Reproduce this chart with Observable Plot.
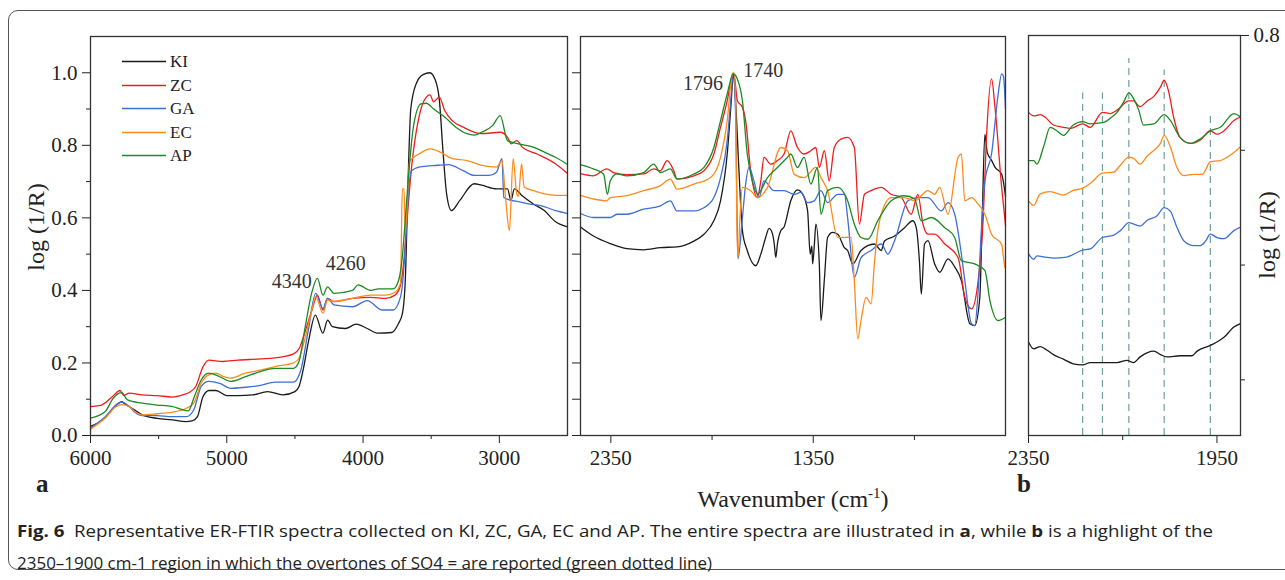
<!DOCTYPE html>
<html><head><meta charset="utf-8">
<script src="https://cdn.jsdelivr.net/npm/d3@7"></script>
<script src="https://cdn.jsdelivr.net/npm/@observablehq/plot@0.6"></script>
<style>
body{margin:0;background:#fff;}
#wrap{position:relative;width:1285px;height:580px;overflow:hidden;font-family:"Liberation Serif",serif;color:#222;}
.abs{position:absolute;}
.border{position:absolute;left:8px;top:10px;width:1300px;height:560px;border:1.3px solid #555;border-radius:10px;box-sizing:border-box;}
.ylab{position:absolute;font-size:24px;white-space:nowrap;transform:translate(-50%,-50%) rotate(-90deg);}
.cap{position:absolute;left:17px;font-family:"Open Sans",sans-serif;font-size:16.5px;white-space:nowrap;transform-origin:0 50%;color:#222;}
.leg{position:absolute;font-size:17px;line-height:17px;}
</style></head><body><div id="wrap"><div class="border"></div></div>
<script>
// ---------- data ----------
const names = ["KI","ZC","GA","EC","AP"];
const colors = ["#1a1a1a","#ee1d1d","#3d6fd6","#ff8a1c","#1c8a22"];

// full spectra (wavenumber cm-1, log(1/R)) 6000 -> 400
const KI = [[6000,0.025],[5890,0.05],[5810,0.085],[5770,0.093],[5745,0.086],[5716,0.08],[5675,0.07],[5620,0.057],[5510,0.047],[5400,0.043],[5300,0.038],[5255,0.04],[5215,0.052],[5175,0.107],[5130,0.124],[5080,0.124],[5000,0.11],[4920,0.11],[4810,0.112],[4700,0.121],[4590,0.112],[4500,0.121],[4470,0.135],[4440,0.18],[4400,0.26],[4350,0.332],[4295,0.282],[4260,0.318],[4225,0.3],[4130,0.295],[4050,0.307],[3970,0.295],[3890,0.282],[3790,0.284],[3740,0.309],[3712,0.335],[3690,0.43],[3670,0.7],[3650,0.9],[3610,0.97],[3560,0.995],[3510,1.0],[3470,0.98],[3440,0.924],[3414,0.786],[3387,0.666],[3352,0.62],[3290,0.648],[3185,0.694],[3130,0.69],[3020,0.68],[2940,0.68],[2915,0.648],[2890,0.68],[2830,0.66],[2750,0.638],[2670,0.62],[2590,0.59],[2500,0.575],
[2436,0.55],[2353,0.529],[2271,0.515],[2188,0.512],[2105,0.518],[2023,0.52],[1940,0.536],[1890,0.555],[1841,0.592],[1808,0.647],[1775,0.776],[1755,0.923],[1745,0.997],[1733,0.914],[1717,0.73],[1700,0.565],[1676,0.51],[1634,0.468],[1609,0.5],[1585,0.546],[1568,0.571],[1551,0.555],[1543,0.53],[1535,0.491],[1527,0.528],[1510,0.565],[1494,0.575],[1461,0.647],[1428,0.677],[1403,0.666],[1378,0.62],[1365,0.5],[1357,0.522],[1353,0.473],[1344,0.53],[1337,0.583],[1320,0.473],[1312,0.317],[1295,0.43],[1279,0.546],[1254,0.56],[1229,0.555],[1196,0.518],[1180,0.51],[1155,0.473],[1114,0.51],[1048,0.528],[1014,0.51],[998,0.536],[948,0.55],[899,0.573],[858,0.592],[841,0.573],[825,0.478],[816,0.39],[800,0.528],[783,0.537],[750,0.473],[725,0.45],[684,0.487],[651,0.465],[618,0.427],[576,0.308],[552,0.303],[527,0.38],[515,0.6],[502,0.83],[490,0.78],[470,0.76],[452,0.74],[419,0.72],[400,0.66]];
const ZC = [[6000,0.08],[5920,0.084],[5840,0.107],[5783,0.124],[5756,0.11],[5716,0.117],[5620,0.112],[5510,0.11],[5400,0.106],[5323,0.112],[5269,0.12],[5228,0.135],[5174,0.19],[5133,0.208],[5030,0.204],[4917,0.208],[4754,0.211],[4592,0.217],[4511,0.225],[4470,0.239],[4429,0.282],[4375,0.346],[4335,0.387],[4294,0.346],[4261,0.378],[4213,0.369],[4077,0.378],[3942,0.381],[3834,0.378],[3766,0.387],[3725,0.415],[3698,0.493],[3685,0.556],[3644,0.74],[3590,0.878],[3536,0.933],[3509,0.939],[3482,0.92],[3441,0.933],[3401,0.896],[3346,0.868],[3265,0.85],[3130,0.832],[2994,0.836],[2940,0.822],[2913,0.804],[2872,0.813],[2832,0.795],[2723,0.776],[2588,0.749],[2500,0.722],
[2436,0.716],[2370,0.735],[2337,0.725],[2271,0.719],[2188,0.721],[2138,0.735],[2105,0.73],[2072,0.758],[2039,0.73],[2023,0.707],[1940,0.716],[1890,0.73],[1841,0.776],[1808,0.85],[1775,0.923],[1750,0.993],[1742,0.997],[1725,0.923],[1700,0.905],[1684,0.868],[1659,0.73],[1626,0.656],[1609,0.702],[1593,0.767],[1560,0.748],[1527,0.758],[1494,0.776],[1461,0.84],[1428,0.794],[1395,0.776],[1362,0.785],[1337,0.794],[1320,0.739],[1295,0.785],[1271,0.702],[1246,0.794],[1213,0.817],[1180,0.822],[1147,0.794],[1122,0.583],[1097,0.665],[1064,0.675],[1014,0.684],[965,0.665],[915,0.656],[866,0.61],[833,0.665],[808,0.583],[783,0.555],[750,0.555],[700,0.528],[634,0.49],[601,0.381],[568,0.349],[535,0.427],[510,0.6],[494,0.822],[469,0.983],[452,0.905],[419,0.684],[400,0.58]];
const GA = [[6000,0.02],[5892,0.052],[5810,0.084],[5770,0.092],[5716,0.08],[5675,0.064],[5621,0.055],[5513,0.055],[5404,0.052],[5296,0.052],[5242,0.071],[5188,0.135],[5133,0.149],[5052,0.144],[4971,0.13],[4863,0.133],[4754,0.138],[4646,0.147],[4511,0.147],[4457,0.18],[4402,0.29],[4348,0.392],[4294,0.35],[4261,0.378],[4213,0.36],[4077,0.355],[3969,0.372],[3861,0.346],[3779,0.346],[3725,0.382],[3698,0.474],[3685,0.55],[3671,0.648],[3644,0.73],[3590,0.74],[3455,0.745],[3373,0.747],[3265,0.73],[3184,0.717],[3075,0.717],[3021,0.726],[2981,0.763],[2967,0.656],[2913,0.648],[2860,0.645],[2778,0.638],[2696,0.634],[2588,0.62],[2534,0.615],[2500,0.612],
[2436,0.601],[2353,0.601],[2320,0.61],[2271,0.61],[2188,0.624],[2105,0.633],[2056,0.647],[2023,0.619],[1940,0.619],[1890,0.628],[1841,0.656],[1808,0.711],[1775,0.813],[1759,0.914],[1745,0.997],[1733,0.868],[1722,0.487],[1700,0.6],[1684,0.693],[1667,0.739],[1643,0.702],[1618,0.656],[1593,0.702],[1543,0.675],[1494,0.675],[1444,0.665],[1411,0.67],[1378,0.642],[1345,0.647],[1312,0.675],[1279,0.642],[1229,0.665],[1196,0.665],[1180,0.6],[1147,0.436],[1114,0.49],[1064,0.51],[1014,0.528],[981,0.5],[948,0.537],[882,0.647],[833,0.656],[783,0.656],[717,0.619],[684,0.642],[651,0.61],[618,0.5],[601,0.427],[568,0.308],[552,0.303],[535,0.4],[519,0.57],[502,0.7],[469,0.776],[436,0.942],[419,0.997],[410,0.99],[400,0.9]];
const EC = [[6000,0.017],[5892,0.048],[5810,0.08],[5770,0.085],[5716,0.08],[5675,0.066],[5621,0.057],[5513,0.06],[5404,0.064],[5296,0.075],[5242,0.089],[5188,0.144],[5133,0.167],[5079,0.172],[5025,0.162],[4971,0.158],[4863,0.172],[4754,0.18],[4646,0.19],[4511,0.2],[4470,0.213],[4429,0.263],[4375,0.346],[4348,0.383],[4294,0.337],[4261,0.373],[4213,0.37],[4077,0.378],[3942,0.387],[3834,0.387],[3766,0.395],[3725,0.42],[3712,0.68],[3700,0.68],[3690,0.56],[3675,0.65],[3658,0.757],[3590,0.776],[3509,0.79],[3427,0.78],[3346,0.763],[3238,0.758],[3130,0.745],[3021,0.74],[2981,0.758],[2953,0.648],[2926,0.565],[2899,0.763],[2872,0.666],[2860,0.66],[2837,0.749],[2818,0.685],[2750,0.675],[2669,0.666],[2588,0.662],[2500,0.662],
[2436,0.652],[2370,0.647],[2353,0.656],[2271,0.661],[2188,0.675],[2105,0.689],[2056,0.707],[2023,0.679],[1940,0.693],[1857,0.711],[1808,0.767],[1775,0.868],[1750,0.997],[1742,1.0],[1733,0.914],[1728,0.6],[1722,0.491],[1712,0.6],[1700,0.684],[1659,0.675],[1626,0.656],[1576,0.684],[1510,0.794],[1477,0.785],[1444,0.72],[1395,0.711],[1337,0.739],[1312,0.711],[1279,0.675],[1229,0.546],[1163,0.546],[1147,0.427],[1130,0.266],[1114,0.317],[1089,0.381],[1064,0.363],[1048,0.473],[1031,0.565],[1014,0.61],[965,0.656],[899,0.656],[849,0.647],[783,0.675],[750,0.665],[725,0.684],[684,0.61],[634,0.767],[618,0.776],[601,0.647],[568,0.656],[535,0.638],[502,0.61],[469,0.555],[419,0.527],[403,0.464],[400,0.46]];
const AP = [[6000,0.048],[5892,0.066],[5838,0.1],[5810,0.112],[5770,0.118],[5729,0.098],[5621,0.089],[5513,0.084],[5404,0.08],[5323,0.071],[5282,0.068],[5242,0.103],[5188,0.153],[5133,0.172],[5052,0.162],[4971,0.149],[4863,0.162],[4754,0.176],[4646,0.185],[4511,0.185],[4470,0.204],[4429,0.29],[4375,0.396],[4335,0.433],[4294,0.387],[4261,0.41],[4213,0.392],[4077,0.4],[4037,0.415],[3942,0.4],[3888,0.404],[3834,0.404],[3779,0.404],[3739,0.428],[3712,0.493],[3698,0.556],[3671,0.694],[3631,0.85],[3576,0.914],[3536,0.916],[3482,0.9],[3401,0.878],[3319,0.85],[3238,0.832],[3184,0.828],[3130,0.836],[3048,0.855],[2994,0.882],[2940,0.813],[2859,0.804],[2750,0.795],[2669,0.781],[2588,0.767],[2500,0.747],
[2436,0.735],[2386,0.721],[2367,0.665],[2353,0.702],[2320,0.721],[2271,0.716],[2188,0.725],[2138,0.748],[2105,0.725],[2056,0.735],[2023,0.707],[1940,0.721],[1890,0.739],[1841,0.794],[1808,0.868],[1775,0.942],[1745,0.997],[1725,0.983],[1700,0.923],[1676,0.776],[1651,0.702],[1626,0.665],[1576,0.711],[1527,0.739],[1477,0.767],[1461,0.776],[1428,0.739],[1395,0.767],[1362,0.693],[1329,0.739],[1312,0.61],[1279,0.675],[1229,0.684],[1180,0.647],[1147,0.583],[1114,0.546],[1080,0.541],[1031,0.592],[965,0.647],[899,0.661],[849,0.652],[816,0.592],[766,0.601],[700,0.573],[651,0.546],[618,0.482],[552,0.473],[502,0.455],[477,0.372],[436,0.317],[400,0.326]];

// panel b: 2350-1900 cm-1 highlight (offset traces)
const KI_b = [[2350,0.533],[2339,0.527],[2325,0.529],[2315,0.527],[2297,0.522],[2276,0.518],[2255,0.514],[2235,0.513],[2219,0.515],[2193,0.515],[2162,0.515],[2141,0.517],[2127,0.515],[2113,0.52],[2084,0.525],[2070,0.522],[2056,0.52],[2028,0.521],[2003,0.521],[1992,0.525],[1964,0.53],[1935,0.537],[1914,0.546],[1900,0.549]];
const ZC_b = [[2350,0.733],[2339,0.73],[2325,0.731],[2315,0.729],[2297,0.722],[2276,0.72],[2261,0.719],[2235,0.723],[2219,0.72],[2193,0.733],[2176,0.732],[2162,0.735],[2137,0.743],[2127,0.743],[2113,0.738],[2098,0.743],[2084,0.747],[2070,0.755],[2062,0.761],[2053,0.752],[2042,0.729],[2028,0.711],[2006,0.706],[1985,0.709],[1964,0.717],[1950,0.714],[1935,0.717],[1914,0.726],[1900,0.729]];
const GA_b = [[2350,0.61],[2339,0.605],[2332,0.608],[2315,0.607],[2297,0.606],[2269,0.607],[2235,0.613],[2219,0.614],[2193,0.624],[2169,0.626],[2155,0.63],[2137,0.637],[2113,0.634],[2098,0.639],[2077,0.643],[2062,0.65],[2049,0.647],[2035,0.633],[2020,0.621],[1999,0.617],[1985,0.617],[1974,0.621],[1964,0.627],[1950,0.624],[1935,0.623],[1914,0.63],[1900,0.633]];
const EC_b = [[2350,0.656],[2339,0.652],[2325,0.662],[2304,0.664],[2276,0.661],[2255,0.665],[2235,0.667],[2219,0.671],[2193,0.68],[2169,0.681],[2155,0.687],[2137,0.694],[2127,0.693],[2113,0.688],[2098,0.695],[2084,0.7],[2070,0.706],[2062,0.713],[2049,0.703],[2035,0.685],[2020,0.678],[1999,0.679],[1981,0.679],[1964,0.69],[1943,0.691],[1928,0.694],[1914,0.698],[1900,0.703]];
const AP_b = [[2350,0.691],[2339,0.691],[2332,0.688],[2318,0.703],[2304,0.72],[2290,0.717],[2276,0.713],[2255,0.722],[2235,0.725],[2219,0.723],[2193,0.724],[2176,0.728],[2162,0.733],[2148,0.742],[2137,0.75],[2127,0.745],[2116,0.735],[2106,0.722],[2084,0.723],[2062,0.731],[2049,0.726],[2028,0.711],[2006,0.706],[1985,0.71],[1964,0.717],[1943,0.72],[1914,0.732],[1900,0.729]];

// SO4 overtone markers (panel b)
const overtoneW = [2235,2193,2137,2062,1964];
const overtoneTop = [0.75,0.75,0.78,0.77,0.73];

// axes
const xTicks1 = [6000,5000,4000,3000], xMinor1 = [5500,4500,3500];
const xTicks2 = [2350,1350], xMinor2 = [1850,850];
const xTicks3 = [2350,1950], xMinor3 = [2150];
const yTicks1 = [0,0.2,0.4,0.6,0.8,1.0], yMinor1 = [0.1,0.3,0.5,0.7,0.9];
const yTicks2 = [0,0.1,0.2,0.3,0.4,0.5,0.6,0.7,0.8,0.9,1.0];
const yTicks3 = [0.8], yMinor3 = [0.7,0.6,0.5];
const xDom1 = [6000,2500], xDom2 = [2500,400], xDom3 = [2350,1900];
const yDom = [0,1.1], yDom3 = [0.4515,0.8];

// peak annotations
const annA = [{label:"4340", w:4340, v:0.433}];
const annB = [{label:"4260", w:4260, v:0.41}];
const annC = [{label:"1796", w:1796, v:1.0}];
const annD = [{label:"1740", w:1740, v:1.0}];

const captionLine1 = ['<b>Fig. 6</b>&nbsp; Representative ER-FTIR spectra collected on KI, ZC, GA, EC and AP. The entire spectra are illustrated in <b>a</b>, while <b>b</b> is a highlight of the'];
const captionLine2 = ['2350–1900 cm-1 region in which the overtones of SO4 = are reported (green dotted line)'];

// ---------- build ----------
const full = {KI, ZC, GA, EC, AP};
const zoomed = {KI:KI_b, ZC:ZC_b, GA:GA_b, EC:EC_b, AP:AP_b};
const toRows = src => names.flatMap(n => src[n].map(([w,v]) => ({s:n, w, v})));
const rowsFull = toRows(full);
const rows1 = rowsFull.filter(d => d.w >= 2500);
const rows2 = rowsFull.filter(d => d.w <= 2500);
const rows3 = toRows(zoomed);
const overtones = overtoneW.map((w,i) => ({w, top: overtoneTop[i]}));

const wrap = document.getElementById("wrap");
const style = {fontFamily:"Liberation Serif, serif", fontSize:"21px", color:"#222", background:"transparent", overflow:"visible"};
const color = {domain:names, range:colors};
const lineOpts = {x:"w", y:"v", z:"s", stroke:"s", strokeWidth:1.3, curve:"monotone-x"};
const frame = Plot.frame({stroke:"#333", strokeWidth:1.3});
const blank = () => "";

function place(el, left, top){
  const d = document.createElement("div");
  d.className = "abs"; d.style.left = left+"px"; d.style.top = top+"px";
  d.appendChild(el); wrap.appendChild(d);
}

const p1 = Plot.plot({
  width:575, height:470, marginLeft:90, marginRight:8, marginTop:36, marginBottom:35,
  style, color,
  x:{domain:xDom1}, y:{domain:yDom},
  marks:[
    Plot.axisX(xTicks1, {tickSize:8, tickPadding:7, tickFormat:d=>String(d), label:null}),
    Plot.axisX(xMinor1, {tickSize:4, tickFormat:blank, label:null}),
    Plot.axisY(yTicks1, {tickSize:8, tickPadding:5, tickFormat:".1f", label:null}),
    Plot.axisY(yMinor1, {tickSize:4, tickFormat:blank, label:null}),
    Plot.line(rows1, lineOpts),
    frame,
    Plot.text(annA, {x:"w", y:"v", text:"label", textAnchor:"end", dx:-5, dy:3, fontSize:20, fill:"#333"}),
    Plot.text(annB, {x:"w", y:"v", text:"label", textAnchor:"start", dx:-2, dy:-23, fontSize:20, fill:"#333"})
  ]
});
place(p1, 0, 0);

const p2 = Plot.plot({
  width:500, height:470, marginLeft:40, marginRight:35, marginTop:36, marginBottom:35,
  style, color,
  x:{domain:xDom2}, y:{domain:yDom},
  marks:[
    Plot.axisX(xTicks2, {tickSize:8, tickPadding:7, tickFormat:d=>String(d), label:null}),
    Plot.axisX(xMinor2, {tickSize:5, tickFormat:blank, label:null}),
    Plot.axisY(yTicks2, {tickSize:8, tickFormat:blank, label:null}),
    Plot.line(rows2, lineOpts),
    frame,
    Plot.text(annC, {x:"w", y:"v", text:"label", textAnchor:"end", dx:0, dy:11, fontSize:20, fill:"#333"}),
    Plot.text(annD, {x:"w", y:"v", text:"label", textAnchor:"start", dx:9, dy:-2, fontSize:20, fill:"#333"})
  ]
});
place(p2, 540, 0);

const p3 = Plot.plot({
  width:295, height:470, marginLeft:38, marginRight:45, marginTop:35, marginBottom:35,
  style, color,
  x:{domain:xDom3}, y:{domain:yDom3},
  marks:[
    Plot.axisX(xTicks3, {tickSize:8, tickPadding:7, tickFormat:d=>String(d), label:null}),
    Plot.axisX(xMinor3, {tickSize:5, tickFormat:blank, label:null}),
    Plot.axisY(yTicks3, {anchor:"right", tickSize:8, tickPadding:5, tickFormat:".1f", label:null}),
    Plot.axisY(yMinor3, {anchor:"right", tickSize:4, tickFormat:blank, label:null}),
    Plot.ruleX(overtones, {x:"w", y1:yDom3[0], y2:"top", stroke:"#6f9e9c", strokeWidth:1.2, strokeDasharray:"7,5"}),
    Plot.line(rows3, lineOpts),
    frame
  ]
});
place(p3, 990, 0);

// legend (panel a)
names.forEach((n,i) => {
  const row = document.createElement("div");
  row.className = "leg";
  row.style.left = "122px"; row.style.top = (62 + i*23.5 - 9) + "px";
  row.innerHTML = `<svg width="44" height="17" style="vertical-align:top"><line x1="0" x2="44" y1="8.5" y2="8.5" stroke="${colors[i]}" stroke-width="1.4"/></svg><span style="margin-left:4px">${n}</span>`;
  wrap.appendChild(row);
});

// axis titles & panel letters
function addText(html, cls, css){
  const d = document.createElement("div");
  if (cls) d.className = cls;
  d.innerHTML = html;
  Object.assign(d.style, {position:"absolute"}, css);
  wrap.appendChild(d);
  return d;
}
addText("log (1/R)", "ylab", {left:"36px", top:"227px"});
addText("log (1/R)", "ylab", {left:"1267px", top:"235px"});
addText("Wavenumber (cm<sup style='font-size:15px;vertical-align:9px;line-height:0'>-1</sup>)", null,
  {left:"793px", top:"499px", fontSize:"24px", transform:"translate(-50%,-50%)", whiteSpace:"nowrap"});
addText("a", null, {left:"36px", top:"470px", fontSize:"25px", fontWeight:"bold"});
addText("b", null, {left:"1017px", top:"470px", fontSize:"25px", fontWeight:"bold"});

// caption
const c1 = addText(captionLine1[0], "cap", {top:"519px"});
const c2 = addText(captionLine2[0], "cap", {top:"551px"});
[[c1,1196],[c2,695]].forEach(([el,target]) => {
  const w = el.getBoundingClientRect().width;
  el.style.transform = `scaleX(${target / w})`;
});
</script></body></html>
